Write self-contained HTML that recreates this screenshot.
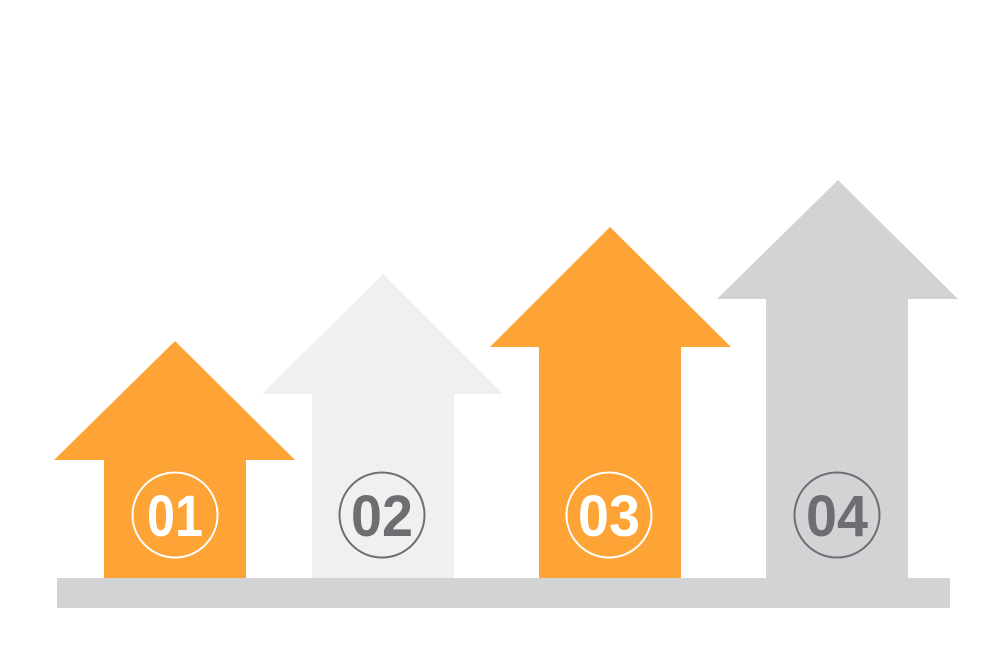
<!DOCTYPE html>
<html><head><style>html,body{margin:0;padding:0;background:#fff;}svg{display:block}</style></head>
<body>
<svg width="1000" height="652" viewBox="0 0 1000 652" xmlns="http://www.w3.org/2000/svg">
<rect width="1000" height="652" fill="#fff"/>
<polygon points="175,341 295,460 246,460 246,578 104,578 104,460 54,460" fill="#fea335"/>
<polygon points="383,274 503,394 454,394 454,578 312,578 312,394 262,394" fill="#f0f0f0"/>
<polygon points="610,227 731,347 681,347 681,578 539,578 539,347 490,347" fill="#fea335"/>
<polygon points="838,180 958,299 908,299 908,578 766,578 766,299 717,299" fill="#d1d3d5"/>
<rect x="57" y="578" width="893" height="30" fill="#d1d3d5"/>
<g font-family="Liberation Sans, sans-serif" font-weight="bold" font-size="58" text-anchor="middle">
<circle cx="175" cy="515" r="42.5" fill="none" stroke="#fff" stroke-width="2"/>
<text x="175" y="536" fill="#fff" textLength="56" lengthAdjust="spacingAndGlyphs">01</text>
<circle cx="382" cy="515" r="42.5" fill="none" stroke="#6d6e71" stroke-width="2"/>
<text x="382" y="536" fill="#6d6e71" textLength="62" lengthAdjust="spacingAndGlyphs">02</text>
<circle cx="609" cy="515" r="42.5" fill="none" stroke="#fff" stroke-width="2"/>
<text x="609" y="536" fill="#fff" textLength="62" lengthAdjust="spacingAndGlyphs">03</text>
<circle cx="837" cy="515" r="42.5" fill="none" stroke="#6d6e71" stroke-width="2"/>
<text x="837" y="536" fill="#6d6e71" textLength="62" lengthAdjust="spacingAndGlyphs">04</text>
</g>
</svg>
</body></html>
